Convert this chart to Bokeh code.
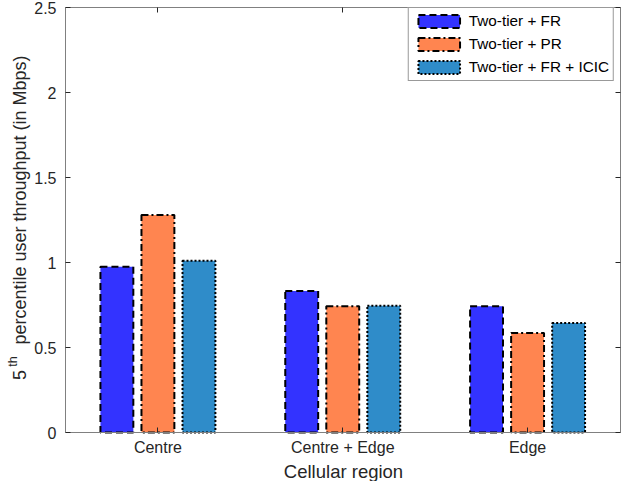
import math
from bokeh.plotting import figure
from bokeh.models import (ColumnDataSource, FixedTicker, CustomJSTickFormatter,
                          LinearAxis, Range1d, Label)
from bokeh.transform import dodge
from bokeh.embed import file_html
from bokeh.resources import INLINE

# ---- data ----
categories = ["Centre", "Centre + Edge", "Edge"]
fr_values = [0.975, 0.833, 0.742]
pr_values = [1.28, 0.742, 0.586]
icic_values = [1.01, 0.746, 0.644]
series_names = ["Two-tier + FR", "Two-tier + PR", "Two-tier + FR + ICIC"]
y_ticks = [0, 0.5, 1, 1.5, 2, 2.5]
x_title = "Cellular region"
y_title_main = "percentile user throughput (in Mbps)"
y_title_num = "5"
y_title_sup = "th"

FONT = "Liberation Sans"
TXT = "#262626"
AX = "#808080"

W, H = 621, 481
# plot box in canvas pixels (the frame spans the whole canvas)
PX_L, PX_R, PY_T, PY_B = 65.0, 619.5, 7.0, 432.0
X_LO, X_HI = 0.5, len(categories) + 0.5
Y_LO, Y_HI = 0.0, 2.5
KX = (PX_R - PX_L) / (X_HI - X_LO)
KY = (PY_B - PY_T) / (Y_HI - Y_LO)


def dx(sx):
    return X_LO + (sx - PX_L) / KX


def dy(sy):
    return Y_LO + (PY_B - sy) / KY


positions = list(range(1, len(categories) + 1))
src = ColumnDataSource(dict(x=positions, fr=fr_values, pr=pr_values, icic=icic_values))

p = figure(width=W, height=H, output_backend="svg", toolbar_location=None,
           x_range=Range1d(dx(0), dx(W)), y_range=Range1d(dy(H), dy(0)),
           min_border_left=0, min_border_right=0, min_border_top=0,
           min_border_bottom=0)
p.outline_line_color = None
p.xgrid.visible = False
p.ygrid.visible = False
p.background_fill_color = "white"
p.border_fill_color = "white"

off = 0.222
w = 0.178
colors = ["#3333FF", "#FF8550", "#2F8CC9"]
dashes = ["7 4", "7 3 2 3", "2 2"]
fields = ["fr", "pr", "icic"]
for i, (f, c, d, name) in enumerate(zip(fields, colors, dashes, series_names)):
    p.vbar(x=dodge("x", (i - 1) * off, range=p.x_range), top=f, width=w, bottom=0,
           source=src, fill_color=c, line_color="black", line_width=2,
           line_dash=d, legend_label=name)

xfmt = CustomJSTickFormatter(args=dict(names=categories),
                             code="return names[Math.round(tick) - 1];")
yfmt = CustomJSTickFormatter(code="return String(tick);")
blank = CustomJSTickFormatter(code="return '';")


def style_axis(ax, show_labels):
    ax.axis_line_color = AX
    ax.axis_line_width = 1
    ax.major_tick_line_color = TXT
    ax.major_tick_in = 5
    ax.major_tick_out = 0
    ax.minor_tick_line_color = None
    ax.major_label_text_font = FONT
    ax.major_label_text_color = TXT
    ax.axis_label = None
    if show_labels:
        ax.major_label_text_font_size = "16px"
        ax.major_label_standoff = 6
    else:
        ax.formatter = blank
        ax.major_label_text_font_size = "1px"
        ax.major_label_standoff = 0


xa = p.xaxis[0]
xa.ticker = FixedTicker(ticks=positions)
xa.formatter = xfmt
xa.bounds = (X_LO, X_HI)
xa.fixed_location = Y_LO
style_axis(xa, True)

ya = p.yaxis[0]
ya.ticker = FixedTicker(ticks=y_ticks)
ya.formatter = yfmt
ya.bounds = (Y_LO, Y_HI)
ya.fixed_location = X_LO
style_axis(ya, True)
ya.major_label_standoff = 9

top_ax = LinearAxis(ticker=FixedTicker(ticks=positions), bounds=(X_LO, X_HI),
                    fixed_location=Y_HI)
style_axis(top_ax, False)
p.add_layout(top_ax, "above")
right_ax = LinearAxis(ticker=FixedTicker(ticks=y_ticks), bounds=(Y_LO, Y_HI),
                      fixed_location=X_HI)
style_axis(right_ax, False)
p.add_layout(right_ax, "right")

# axis titles (positioned by the centre of their text boxes)
p.add_layout(Label(x=dx(343), y=dy(471), text=x_title, text_font=FONT,
                   text_font_size="18.5px", text_color=TXT, text_align="center",
                   text_baseline="middle"))
common = dict(angle=math.pi / 2, text_font=FONT, text_color=TXT,
              text_align="center", text_baseline="middle")
p.add_layout(Label(x=dx(19), y=dy(199.5), text=y_title_main,
                   text_font_size="18px", **common))
p.add_layout(Label(x=dx(19), y=dy(374.5), text=y_title_num,
                   text_font_size="18px", **common))
p.add_layout(Label(x=dx(12), y=dy(361), text=y_title_sup,
                   text_font_size="12.5px", **common))

lg = p.legend[0]
lg.location = "top_right"
lg.margin = 7
lg.border_line_color = "#333333"
lg.border_line_width = 1
lg.background_fill_color = "white"
lg.background_fill_alpha = 1
lg.label_text_font = FONT
lg.label_text_font_size = "15.3px"
lg.label_text_color = "black"
lg.glyph_width = 52
lg.glyph_height = 16
lg.label_height = 16
lg.spacing = 5
lg.padding = 4
lg.label_standoff = 4

open("out.html", "w").write(file_html(p, INLINE))
